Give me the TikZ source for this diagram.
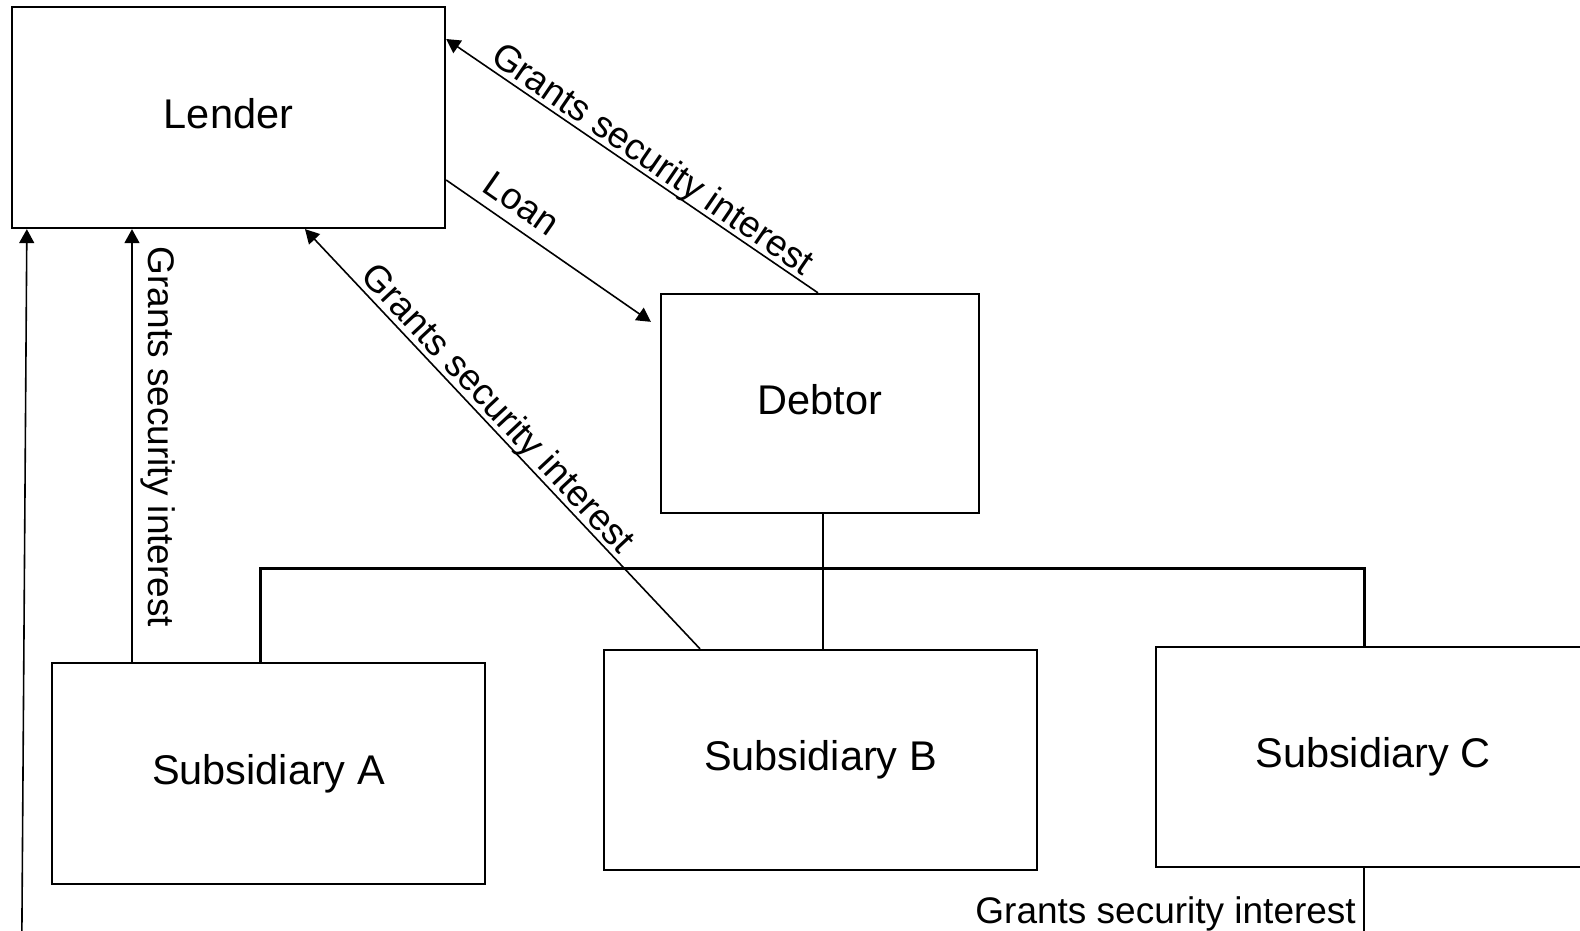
\documentclass[tikz,border=0pt]{standalone}
\usepackage{fontspec}
\setmainfont{Liberation Sans}
\usetikzlibrary{arrows.meta,calc}
\begin{document}
\begin{tikzpicture}[x=1pt,y=-1pt,
  box/.style={draw=black, line width=2.3pt, inner sep=0pt,
    font=\fontsize{41.5}{50}\selectfont, text height=30pt, text depth=8.7pt},
  conn/.style={draw=black, line width=1.6pt},
  arr/.style={conn, -{Triangle[length=14pt,width=15pt]}},
  bus/.style={draw=black, line width=3pt},
  lab/.style={font=\fontsize{37}{44}\selectfont, inner sep=0pt}]
\useasboundingbox (0,0) rectangle (1580,931);
\fill[white] (0,0) rectangle (1580,931);
\clip (0,0) rectangle (1580,931);

% boxes
\node[box, minimum width=433pt, minimum height=221pt] (lender) at (228.5,117.5) {Lender};
\node[box, minimum width=318pt, minimum height=219pt] (debtor) at (820,403.5) {Debtor};
\node[box, minimum width=433pt, minimum height=221pt] (subA) at (268.5,773.5) {Subsidiary A};
\node[box, minimum width=433pt, minimum height=220pt] (subB) at (820.5,760) {Subsidiary B};
\node[box, minimum width=434pt, minimum height=220pt] (subC) at (1373,757) {Subsidiary C};

% helper coordinates
\coordinate (xa) at (132,0);
\coordinate (xbus) at (260,0);
\coordinate (xmid) at (823,0);
\coordinate (xc) at (1364,0);
\coordinate (ybus) at (0,568);
\coordinate (xb) at (700,0);
\coordinate (xl) at (305,0);
\coordinate (xd) at (818,0);
\coordinate (yd) at (0,39);
\coordinate (yl) at (0,180);
\coordinate (lb1) at (1364,1000);
\coordinate (lb2) at (21.4,1000);

% ownership structure
\draw[bus] (subA.north -| xbus) -- (xbus |- ybus) -- (xc |- ybus) -- (subC.north -| xc);
\draw[conn] (debtor.south -| xmid) -- (subB.north -| xmid);

% arrows
\draw[arr] (subA.north -| xa) -- (lender.south -| xa);
\draw[arr] (subB.north -| xb) -- (lender.south -| xl);
\draw[arr] (debtor.north -| xd) -- (lender.east |- yd);
\draw[arr] (lender.east |- yl) -- ($(debtor.north west)+(-9,29)$);
\draw[arr] (subC.south -| xc) -- (lb1) -- (lb2) -- ([xshift=16pt]lender.south west);

% labels
\node[lab, rotate=-34.4, anchor=base] (l1) at (646,169) {Grants security interest};
\node[lab, rotate=-34.8, anchor=base] (l2) at (514.5,213.6) {Loan};
\node[lab, rotate=-46.9, anchor=base] (l3) at (489.6,416.5) {Grants security interest};
\node[lab, rotate=-90, anchor=base] (l4) at (148,437) {Grants security interest};
\node[lab, anchor=base east] (l5) at (1356,923) {Grants security interest};
\end{tikzpicture}
\end{document}
